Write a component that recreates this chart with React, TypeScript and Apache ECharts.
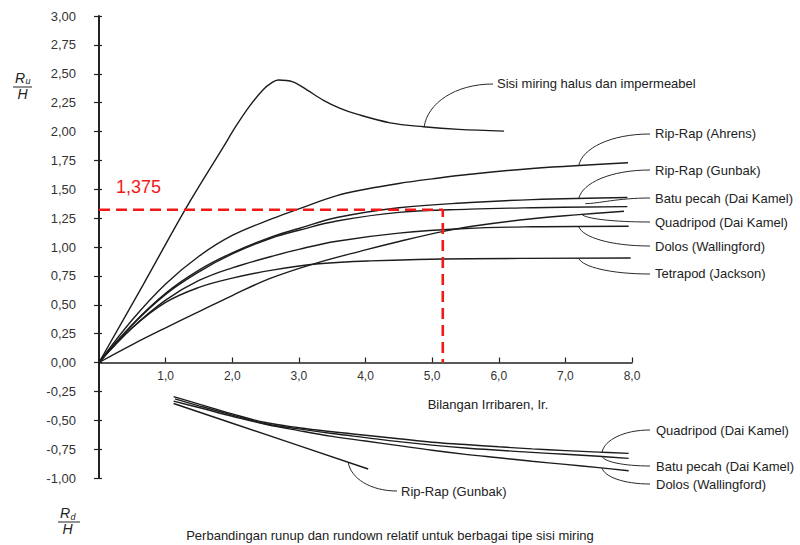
import { useEffect, useRef } from 'react';
import * as echarts from 'echarts';

// ---------- data ----------
const xTickValues = [1, 2, 3, 4, 5, 6, 7, 8];
const yTickValues = [-1, -0.75, -0.5, -0.25, 0, 0.25, 0.5, 0.75, 1, 1.25, 1.5, 1.75, 2, 2.25, 2.5, 2.75, 3];
const yMin = -1;
const yMax = 3;

// Run-up curves
const sisiX = [0, 0.66, 1.3, 1.86, 2.06, 2.26, 2.46, 2.6, 2.69, 2.91, 3.12, 3.37, 3.62, 3.87, 4.37, 4.87, 5.4, 6.08];
const sisiY = [0, 0.67, 1.33, 1.86, 2.05, 2.22, 2.36, 2.425, 2.446, 2.43, 2.36, 2.27, 2.2, 2.15, 2.075, 2.041, 2.018, 2.003];

const ahrensX = [0, 0.5, 1.0, 1.5, 2.0, 2.6, 3.0, 3.57, 4.0, 4.5, 5.0, 5.57, 6.5, 7.94];
const ahrensY = [0, 0.37, 0.68, 0.92, 1.1, 1.245, 1.33, 1.445, 1.5, 1.55, 1.59, 1.63, 1.68, 1.73];

const gunbakUpX = [0, 0.5, 1.0, 1.5, 2.0, 2.6, 3.0, 3.57, 4.5, 5.57, 6.5, 7.93];
const gunbakUpY = [0, 0.33, 0.6, 0.8, 0.95, 1.09, 1.16, 1.255, 1.34, 1.385, 1.41, 1.428];

const batuUpX = [0, 0.5, 1.0, 1.5, 2.0, 2.6, 3.0, 3.57, 4.5, 5.57, 6.5, 7.93];
const batuUpY = [0, 0.325, 0.59, 0.785, 0.94, 1.08, 1.145, 1.225, 1.3, 1.328, 1.34, 1.35];

const quadUpX = [0, 0.5, 1.0, 1.5, 2.0, 2.56, 3.2, 4.0, 4.52, 5.17, 5.6, 6.5, 7.2, 7.88];
const quadUpY = [0, 0.155, 0.3, 0.44, 0.58, 0.726, 0.85, 0.975, 1.05, 1.135, 1.18, 1.245, 1.28, 1.31];

const dolosUpX = [0, 0.5, 1.0, 1.5, 2.0, 2.6, 3.0, 3.57, 4.5, 5.5, 6.5, 7.95];
const dolosUpY = [0, 0.3, 0.54, 0.71, 0.82, 0.92, 0.98, 1.05, 1.12, 1.16, 1.175, 1.18];

const tetraX = [0, 0.5, 1.0, 1.5, 2.0, 2.6, 3.3, 4.07, 5.57, 7.98];
const tetraY = [0, 0.3, 0.52, 0.65, 0.73, 0.8, 0.855, 0.88, 0.898, 0.905];

// Run-down curves
const quadDownX = [1.12, 1.5, 2.0, 2.5, 3.0, 3.5, 4.0, 4.5, 5.0, 5.5, 6.0, 6.5, 7.0, 7.5, 7.95];
const quadDownY = [-0.295, -0.36, -0.445, -0.52, -0.565, -0.6, -0.63, -0.66, -0.69, -0.71, -0.73, -0.748, -0.763, -0.776, -0.787];

const batuDownX = [1.14, 1.5, 2.0, 2.5, 3.0, 3.5, 4.0, 4.5, 5.0, 5.5, 6.0, 6.5, 7.0, 7.5, 7.95];
const batuDownY = [-0.315, -0.375, -0.455, -0.53, -0.575, -0.615, -0.65, -0.685, -0.715, -0.74, -0.76, -0.778, -0.795, -0.812, -0.83];

const dolosDownX = [1.12, 1.5, 2.0, 2.5, 3.0, 3.5, 4.0, 4.5, 5.0, 5.5, 6.0, 6.5, 7.0, 7.5, 7.95];
const dolosDownY = [-0.335, -0.39, -0.465, -0.535, -0.59, -0.64, -0.68, -0.72, -0.76, -0.795, -0.825, -0.855, -0.882, -0.91, -0.937];

const gunbakDownX = [1.12, 2.0, 3.0, 4.04];
const gunbakDownY = [-0.355, -0.526, -0.72, -0.922];

// Red reference lines
const refX = 5.16;
const refY = 1.322;
const refLabel = '1,375';

// ---------- helpers ----------
const FONT = '"Liberation Sans", Arial, sans-serif';
const GRID = { left: 99, right: 168, top: 16, bottom: 67 };
const CHART_H = 545;
const zip = (xs: number[], ys: number[]) => xs.map((x, i) => [x, ys[i]]);
const interp = (xs: number[], ys: number[], x: number) => {
  for (let i = 0; i < xs.length - 1; i++) {
    if (x >= xs[i] && x <= xs[i + 1]) {
      const t = (x - xs[i]) / (xs[i + 1] - xs[i]);
      return ys[i] + t * (ys[i + 1] - ys[i]);
    }
  }
  return ys[ys.length - 1];
};

const curveStyle = { color: '#1c1c1c', width: 1.4 };
const mkSeries = (name: string, xs: number[], ys: number[], smooth: number | boolean = 0.4) => ({
  name,
  type: 'line',
  data: zip(xs, ys),
  showSymbol: false,
  symbol: 'none',
  smooth,
  lineStyle: curveStyle,
  silent: true,
});

export default function App() {
  const ref = useRef<HTMLDivElement>(null);
  useEffect(() => {
    if (!ref.current) return;
    const chart = echarts.init(ref.current, undefined, { renderer: 'svg' });
    const gridH = CHART_H - GRID.top - GRID.bottom;
    const zeroOffset = ((0 - yMin) / (yMax - yMin)) * gridH;
    const option: any = {
      animation: false,
      backgroundColor: '#ffffff',
      grid: { ...GRID, outerBoundsMode: 'none' },
      xAxis: {
        type: 'value',
        min: 0,
        max: 8,
        interval: 1,
        position: 'bottom',
        offset: -zeroOffset,
        axisLine: { onZero: false, lineStyle: { color: '#222', width: 1.6 } },
        axisTick: { show: true, inside: true, length: 5, lineStyle: { color: '#222', width: 1.2 } },
        axisLabel: {
          margin: 7,
          fontSize: 12,
          color: '#333',
          fontFamily: FONT,
          formatter: (v: number) => (xTickValues.includes(v) ? v.toFixed(1).replace('.', ',') : ''),
        },
        splitLine: { show: false },
      },
      yAxis: [
        {
          type: 'value',
          min: yMin,
          max: yMax,
          interval: 0.25,
          position: 'left',
          axisLine: { show: true, onZero: false, lineStyle: { color: '#222', width: 2 } },
          axisTick: { show: true, length: 5, lineStyle: { color: '#222', width: 1.2 } },
          axisLabel: {
            margin: 23,
            fontSize: 13,
            color: '#333',
            fontFamily: FONT,
            formatter: (v: number) => (yTickValues.some((t) => Math.abs(t - v) < 1e-9) ? v.toFixed(2).replace('.', ',') : ''),
          },
          splitLine: { show: false },
        },
        {
          type: 'value',
          min: yMin,
          max: yMax,
          interval: 0.25,
          position: 'left',
          axisLine: { show: false, onZero: false },
          axisTick: { show: true, inside: true, length: 3, lineStyle: { color: '#222', width: 1.2 } },
          axisLabel: { show: false },
          splitLine: { show: false },
        },
      ],
      series: [
        mkSeries('Sisi miring halus dan impermeabel', sisiX, sisiY, 0.35),
        mkSeries('Rip-Rap (Ahrens)', ahrensX, ahrensY),
        mkSeries('Rip-Rap (Gunbak)', gunbakUpX, gunbakUpY),
        mkSeries('Batu pecah (Dai Kamel)', batuUpX, batuUpY),
        mkSeries('Quadripod (Dai Kamel)', quadUpX, quadUpY),
        mkSeries('Dolos (Wallingford)', dolosUpX, dolosUpY),
        mkSeries('Tetrapod (Jackson)', tetraX, tetraY),
        mkSeries('Quadripod (Dai Kamel) rundown', quadDownX, quadDownY),
        mkSeries('Batu pecah (Dai Kamel) rundown', batuDownX, batuDownY),
        mkSeries('Dolos (Wallingford) rundown', dolosDownX, dolosDownY),
        mkSeries('Rip-Rap (Gunbak) rundown', gunbakDownX, gunbakDownY, false),
        {
          name: 'ref',
          type: 'line',
          data: [[0, refY], [refX, refY], [refX, 0]],
          showSymbol: false,
          symbol: 'none',
          smooth: false,
          z: 5,
          lineStyle: { color: '#f01818', width: 2.6, type: [11, 6] },
          silent: true,
        },
      ],
    };
    chart.setOption(option);

    const P = (x: number, y: number) => chart.convertToPixel({ seriesIndex: 0 }, [x, y]) as number[];
    const leaderStyle = { stroke: '#2a2a2a', lineWidth: 1, fill: 'none' };
    const leader = (sx: number, sy: number, e: number[], straight = false) => {
      const [ex, ey] = e;
      if (straight) {
        return {
          type: 'bezierCurve',
          shape: { x1: sx, y1: sy, x2: ex, y2: ey, cpx1: sx - (sx - ex) * 0.5, cpy1: sy, cpx2: ex + (sx - ex) * 0.2, cpy2: ey },
          style: leaderStyle,
          silent: true,
        };
      }
      return {
        type: 'bezierCurve',
        shape: {
          x1: sx,
          y1: sy,
          x2: ex,
          y2: ey,
          cpx1: ex + (sx - ex) * 0.45,
          cpy1: sy,
          cpx2: ex + (sx - ex) * 0.05,
          cpy2: ey + (sy - ey) * 0.55,
        },
        style: leaderStyle,
        silent: true,
      };
    };
    const label = (text: string, x: number, y: number, size = 13, align = 'left') => ({
      type: 'text',
      x,
      y,
      silent: true,
      style: { text, fill: '#222', font: `${size}px ${FONT}`, textAlign: align, textVerticalAlign: 'middle' },
    });
    const italic = (text: string, x: number, y: number, size: number) => ({
      type: 'text',
      x,
      y,
      silent: true,
      style: { text, fill: '#222', font: `italic ${size}px ${FONT}`, textAlign: 'left', textVerticalAlign: 'middle' },
    });

    const graphic: any[] = [
      // run-up labels and leaders
      label('Sisi miring halus dan impermeabel', 497, 83),
      leader(493, 84, P(4.88, interp(sisiX, sisiY, 4.88))),
      label('Rip-Rap (Ahrens)', 655, 133),
      leader(650, 134, P(7.2, interp(ahrensX, ahrensY, 7.2))),
      label('Rip-Rap (Gunbak)', 655, 170),
      leader(650, 170, P(7.2, interp(gunbakUpX, gunbakUpY, 7.2))),
      label('Batu pecah (Dai Kamel)', 655, 198),
      leader(650, 198, P(7.3, interp(batuUpX, batuUpY, 7.3) + 0.03), true),
      label('Quadripod (Dai Kamel)', 655, 222),
      leader(650, 222, P(7.25, interp(quadUpX, quadUpY, 7.25))),
      label('Dolos (Wallingford)', 655, 246),
      leader(650, 246, P(7.2, interp(dolosUpX, dolosUpY, 7.2))),
      label('Tetrapod (Jackson)', 655, 273),
      leader(650, 274, P(7.2, interp(tetraX, tetraY, 7.2))),
      // run-down labels and leaders
      label('Quadripod (Dai Kamel)', 656, 430),
      leader(650, 430, P(7.55, interp(quadDownX, quadDownY, 7.55))),
      label('Batu pecah (Dai Kamel)', 656, 466),
      leader(650, 466, P(7.55, interp(batuDownX, batuDownY, 7.55))),
      label('Dolos (Wallingford)', 656, 484),
      leader(650, 484, P(7.55, interp(dolosDownX, dolosDownY, 7.55))),
      label('Rip-Rap (Gunbak)', 401, 491),
      leader(397, 491, P(3.74, interp(gunbakDownX, gunbakDownY, 3.74))),
      // axis title and caption
      label('Bilangan Irribaren, Ir.', 488, 404, 13, 'center'),
      label('Perbandingan runup dan rundown relatif untuk berbagai tipe sisi miring', 390, 535, 13, 'center'),
      // red value label
      {
        type: 'text',
        x: 116,
        y: 187,
        silent: true,
        style: { text: refLabel, fill: '#f01818', font: `18px ${FONT}`, textAlign: 'left', textVerticalAlign: 'middle' },
      },
      // Ru / H
      italic('R', 15, 77.5, 14),
      italic('u', 25.5, 81, 9),
      { type: 'line', silent: true, shape: { x1: 13, y1: 87, x2: 32, y2: 87 }, style: { stroke: '#222', lineWidth: 1 } },
      italic('H', 17.5, 94, 14),
      // Rd / H
      italic('R', 60, 513, 14),
      italic('d', 70.5, 517, 9),
      { type: 'line', silent: true, shape: { x1: 58, y1: 522, x2: 80, y2: 522 }, style: { stroke: '#222', lineWidth: 1 } },
      italic('H', 62.5, 529, 14),
    ];
    chart.setOption({ graphic });

    return () => chart.dispose();
  }, []);
  return <div ref={ref} style={{ position: 'absolute', left: 0, top: 0, width: 800, height: 545 }} />;
}
